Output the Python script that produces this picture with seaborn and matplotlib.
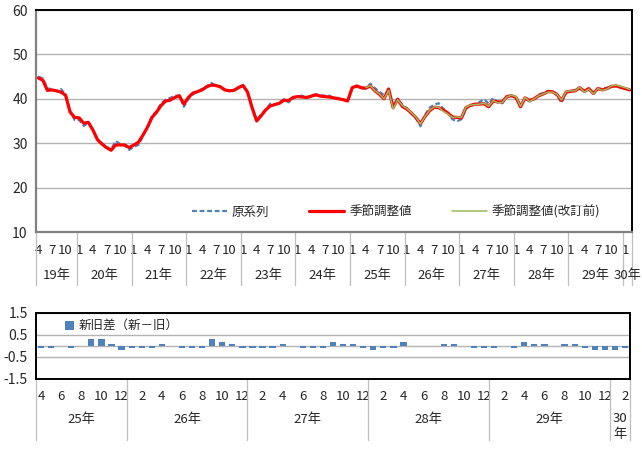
import matplotlib
matplotlib.use("Agg")
import matplotlib.pyplot as plt
from matplotlib.transforms import blended_transform_factory
import numpy as np
import pandas as pd
import seaborn as sns

# ---------------- data ----------------
# top chart: monthly series from H19.4 to H30.2
top_years = [19] * 9 + [y for y in range(20, 30) for _ in range(12)] + [30, 30]
top_months = list(range(4, 13)) + list(range(1, 13)) * 10 + [1, 2]

seasonal_adj = [
    44.7, 44.2, 41.9, 42.0, 41.8, 41.5, 40.8, 37.0, 35.8,
    35.7, 34.5, 34.7, 33.0, 30.8, 29.8, 29.0, 28.4, 29.6, 29.6, 29.6, 29.0,
    29.6, 30.2, 31.8, 33.6, 35.8, 37.0, 38.5, 39.5, 39.7, 40.3, 40.7, 38.8,
    40.3, 41.3, 41.6, 42.0, 42.7, 43.1, 43.0, 42.7, 42.0, 41.8, 41.9, 42.5,
    43.0, 41.5, 38.0, 35.0, 36.2, 37.5, 38.4, 38.7, 39.0, 39.7, 39.6, 40.3,
    40.5, 40.4, 40.3, 40.6, 40.9, 40.6, 40.5, 40.4, 40.2, 40.0, 39.8, 39.5,
    42.5, 42.9, 42.5, 42.4, 42.9, 41.8, 41.0, 40.0, 42.2, 38.0, 39.9, 38.3,
    37.7, 36.8, 35.8, 34.4, 36.0, 37.3, 38.1, 38.0, 37.5, 36.8, 35.9, 35.8,
    35.7, 38.0, 38.5, 38.8, 38.8, 38.9, 38.2, 39.5, 39.3, 39.3, 40.5, 40.7,
    40.3, 38.2, 40.2, 39.6, 40.0, 40.7, 41.1, 41.6, 41.6, 41.0, 39.6, 41.5,
    41.7, 41.8, 42.5, 41.7, 42.3, 41.2, 42.3, 42.0, 42.3, 42.8, 42.9, 42.6,
    42.3, 42.0,
]
original = [
    45.0, 44.6, 42.3, 42.2, 41.7, 42.2, 40.9, 37.3, 35.2,
    35.2, 33.9, 34.6, 33.0, 31.0, 30.0, 29.2, 28.6, 30.5, 29.8, 29.5, 28.5,
    29.2, 29.6, 31.6, 33.6, 36.2, 37.2, 39.0, 39.8, 40.2, 40.7, 40.7, 38.2,
    40.0, 41.0, 41.6, 42.3, 42.8, 43.6, 43.0, 42.8, 42.1, 41.6, 42.0, 42.6,
    43.0, 41.7, 38.0, 35.2, 36.5, 37.6, 38.9, 38.6, 39.2, 39.9, 39.2, 40.0,
    40.6, 40.7, 40.3, 40.4, 41.0, 40.8, 40.7, 40.7, 40.2, 40.2, 39.9, 39.4,
    42.3, 42.8, 42.3, 42.3, 43.4, 42.4, 41.6, 40.8, 41.8, 38.6, 40.0, 38.7,
    37.9, 36.7, 35.6, 33.8, 36.4, 38.0, 38.7, 39.0, 37.8, 36.9, 35.4, 34.9,
    35.4, 37.7, 38.6, 38.7, 39.3, 39.9, 38.9, 40.2, 39.1, 39.0, 40.3, 40.7,
    40.4, 38.5, 40.0, 39.4, 40.0, 41.0, 41.3, 41.8, 41.7, 40.8, 39.1, 41.3,
    41.8, 41.9, 42.3, 41.5, 42.1, 41.4, 42.2, 42.3, 42.5, 42.8, 42.9, 42.5,
    42.4, 41.9,
]

# bottom chart: revision difference (new - old), H25.4 to H30.2
diff_years = [25] * 9 + [y for y in range(26, 30) for _ in range(12)] + [30, 30]
diff_months = list(range(4, 13)) + list(range(1, 13)) * 4 + [1, 2]
revision_diff = [
    -0.1, -0.1, 0.0, -0.1, 0.0, 0.3, 0.3, 0.1, -0.2,
    -0.1, -0.1, -0.1, 0.1, 0.0, -0.1, -0.1, -0.1, 0.3, 0.2, 0.1, -0.1,
    -0.1, -0.1, -0.1, 0.1, 0.0, -0.1, -0.1, -0.1, 0.2, 0.1, 0.1, -0.1,
    -0.2, -0.1, -0.1, 0.2, 0.0, 0.0, 0.0, 0.1, 0.1, 0.0, -0.1, -0.1,
    -0.1, 0.0, -0.1, 0.2, 0.1, 0.1, 0.0, 0.1, 0.1, -0.1, -0.2, -0.2,
    -0.2, -0.1,
]

# ---------------- frames ----------------
n_top = len(seasonal_adj)
top = pd.DataFrame({"pos": np.arange(n_top), "year": top_years, "month": top_months,
                    "orig": original, "sa": seasonal_adj})
offset = n_top - len(revision_diff)
old = np.full(n_top, np.nan)
old[offset:] = np.array(seasonal_adj[offset:]) - np.array(revision_diff)
top["sa_old"] = old

bot = pd.DataFrame({"pos": np.arange(len(revision_diff)), "year": diff_years,
                    "month": diff_months, "diff": revision_diff})

# ---------------- style ----------------
sns.set_theme(style="white")
plt.rcParams["font.family"] = ["Noto Sans CJK JP", "DejaVu Sans"]
FS = 9
GRID = "#B3B3B3"
SEP = "#BFBFBF"
BLUE = "#4F81BD"

W, H = 642, 454
fig = plt.figure(figsize=(W / 100, H / 100), dpi=100)
ax1 = fig.add_axes([36 / W, 1 - 232 / H, 596 / W, 222 / H])
ax2 = fig.add_axes([36 / W, 1 - 379 / H, 594 / W, 66 / H])

# ---------------- top chart ----------------
sns.lineplot(data=top, x="pos", y="orig", ax=ax1, color=BLUE, linewidth=1.6,
             linestyle=(0, (2.2, 1.2)), label="原系列")
sns.lineplot(data=top, x="pos", y="sa", ax=ax1, color="#FF0000", linewidth=2.3,
             label="季節調整値")
sns.lineplot(data=top, x="pos", y="sa_old", ax=ax1, color="#9BBB59", linewidth=1.1,
             label="季節調整値(改訂前)")

ax1.set_xlim(-0.5, n_top - 0.5)
ax1.set_ylim(10, 60)
ax1.set_yticks(range(10, 61, 10))
ax1.yaxis.grid(True, color=GRID, linewidth=1.0)
ax1.set_axisbelow(True)
ax1.set_xlabel("")
ax1.set_ylabel("")
ax1.tick_params(axis="y", length=0, pad=6, labelsize=FS + 1)

mask = top["month"].isin([1, 4, 7, 10])
ax1.set_xticks(top.loc[mask, "pos"])
ax1.set_xticklabels(top.loc[mask, "month"].astype(str))
ax1.tick_params(axis="x", length=0, pad=9, labelsize=FS + 0.5)

tr1 = blended_transform_factory(ax1.transData, ax1.transAxes)
bounds = [-0.5] + list(top.loc[top["month"] == 1, "pos"] - 0.5) + [n_top - 0.5]
for b in bounds:
    ax1.plot([b, b], [0, -53 / 222], transform=tr1, color=SEP, lw=0.9, clip_on=False)
for y, g in top.groupby("year"):
    xc = (g["pos"].min() + g["pos"].max()) / 2
    ax1.text(xc, -43 / 222, f"{y}年", transform=tr1, ha="center", va="center",
             fontsize=FS + 0.5)

for s in ["top", "right"]:
    ax1.spines[s].set_color("black")
    ax1.spines[s].set_linewidth(1.4)
for s in ["left", "bottom"]:
    ax1.spines[s].set_color("#808080")
    ax1.spines[s].set_linewidth(1.6)

ax1.legend(loc="center", bbox_to_anchor=((396 - 36) / 596, 20 / 222), ncol=3,
           frameon=False, fontsize=FS, handlelength=2.8, columnspacing=3.2,
           handletextpad=0.4)

# ---------------- bottom chart ----------------
sns.barplot(data=bot, x="pos", y="diff", ax=ax2, color=BLUE, saturation=1,
            width=0.62, linewidth=0, label="新旧差（新－旧）")
ax2.set_xlim(-0.5, len(bot) - 0.5)
ax2.set_ylim(-1.5, 1.5)
ax2.set_yticks([-1.5, -0.5, 0.5, 1.5])
ax2.set_yticklabels(["-1.5", "-0.5", "0.5", "1.5"])
ax2.yaxis.grid(True, color=GRID, linewidth=1.0)
ax2.axhline(0, color=GRID, linewidth=1.0, zorder=0)
ax2.set_axisbelow(True)
ax2.set_xlabel("")
ax2.set_ylabel("")
ax2.tick_params(axis="y", length=0, pad=6, labelsize=FS + 1)

mask2 = bot["month"] % 2 == 0
ax2.set_xticks(bot.loc[mask2, "pos"])
ax2.set_xticklabels(bot.loc[mask2, "month"].astype(str))
ax2.tick_params(axis="x", length=0, pad=8, labelsize=FS + 0.5)

tr2 = blended_transform_factory(ax2.transData, ax2.transAxes)
bounds2 = [-0.5] + list(bot.loc[bot["month"] == 1, "pos"] - 0.5) + [len(bot) - 0.5]
for b in bounds2:
    ax2.plot([b, b], [0, -61 / 66], transform=tr2, color=SEP, lw=0.9, clip_on=False)
for y, g in bot.groupby("year"):
    xc = (g["pos"].min() + g["pos"].max()) / 2
    label = f"{y}年" if len(g) > 3 else f"{y}\n年"
    ax2.text(xc, -40 / 66 if len(g) > 3 else -47 / 66, label, transform=tr2,
             ha="center", va="center", fontsize=FS + 0.5, linespacing=1.3)

for s in ax2.spines.values():
    s.set_color("black")
    s.set_linewidth(1.4)

ax2.legend(loc="center left", bbox_to_anchor=(0.03, 0.80), frameon=False,
           fontsize=FS, handlelength=0.7, handleheight=0.7, handletextpad=0.4)

fig.savefig("out.png", dpi=100)
